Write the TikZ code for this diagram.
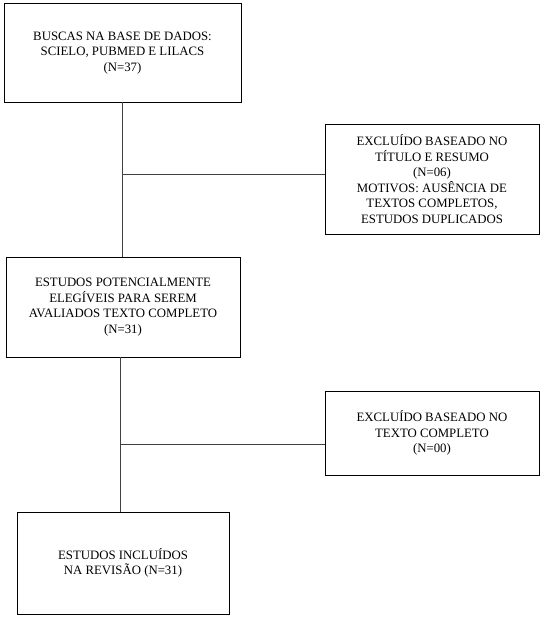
\documentclass[tikz,border=0pt]{standalone}
\usepackage{fontspec}
\setmainfont{Liberation Serif}
\begin{document}
\begin{tikzpicture}[x=1pt,y=-1pt,
  box/.style={draw=black, line width=1pt, fill=white, inner sep=0pt, outer sep=0pt,
    align=center, font=\fontsize{12.8}{15.6}\selectfont},
  conn/.style={draw=black!75, line width=1pt}]
\useasboundingbox[fill=white] (0,0) rectangle (542,618);
\node[box, minimum width=237pt, minimum height=98pt] (b1) at (122.5,53)
  {BUSCAS NA BASE DE DADOS:\\SCIELO, PUBMED E LILACS\\(N=37)};
\node[box, minimum width=214pt, minimum height=110pt] (b2) at (432,179)
  {EXCLUÍDO BASEADO NO\\TÍTULO E RESUMO\\(N=06)\\MOTIVOS: AUSÊNCIA DE\\TEXTOS COMPLETOS,\\ESTUDOS DUPLICADOS};
\node[box, minimum width=234pt, minimum height=100pt] (b3) at (123,307)
  {ESTUDOS POTENCIALMENTE\\ELEGÍVEIS PARA SEREM\\AVALIADOS TEXTO COMPLETO\\(N=31)};
\node[box, minimum width=214pt, minimum height=84pt] (b4) at (432,433)
  {EXCLUÍDO BASEADO NO\\TEXTO COMPLETO\\(N=00)};
\node[box, minimum width=212pt, minimum height=102pt] (b5) at (123,563)
  {ESTUDOS INCLUÍDOS\\NA REVISÃO (N=31)};
\coordinate (j1) at (122.7,174);
\coordinate (j2) at (120.3,444);
\draw[conn] (b1.south -| j1) -- (b3.north -| j1);
\draw[conn] (j1) -- (j1 -| b2.west);
\draw[conn] (b3.south -| j2) -- (b5.north -| j2);
\draw[conn] (j2) -- (j2 -| b4.west);
\end{tikzpicture}
\end{document}
